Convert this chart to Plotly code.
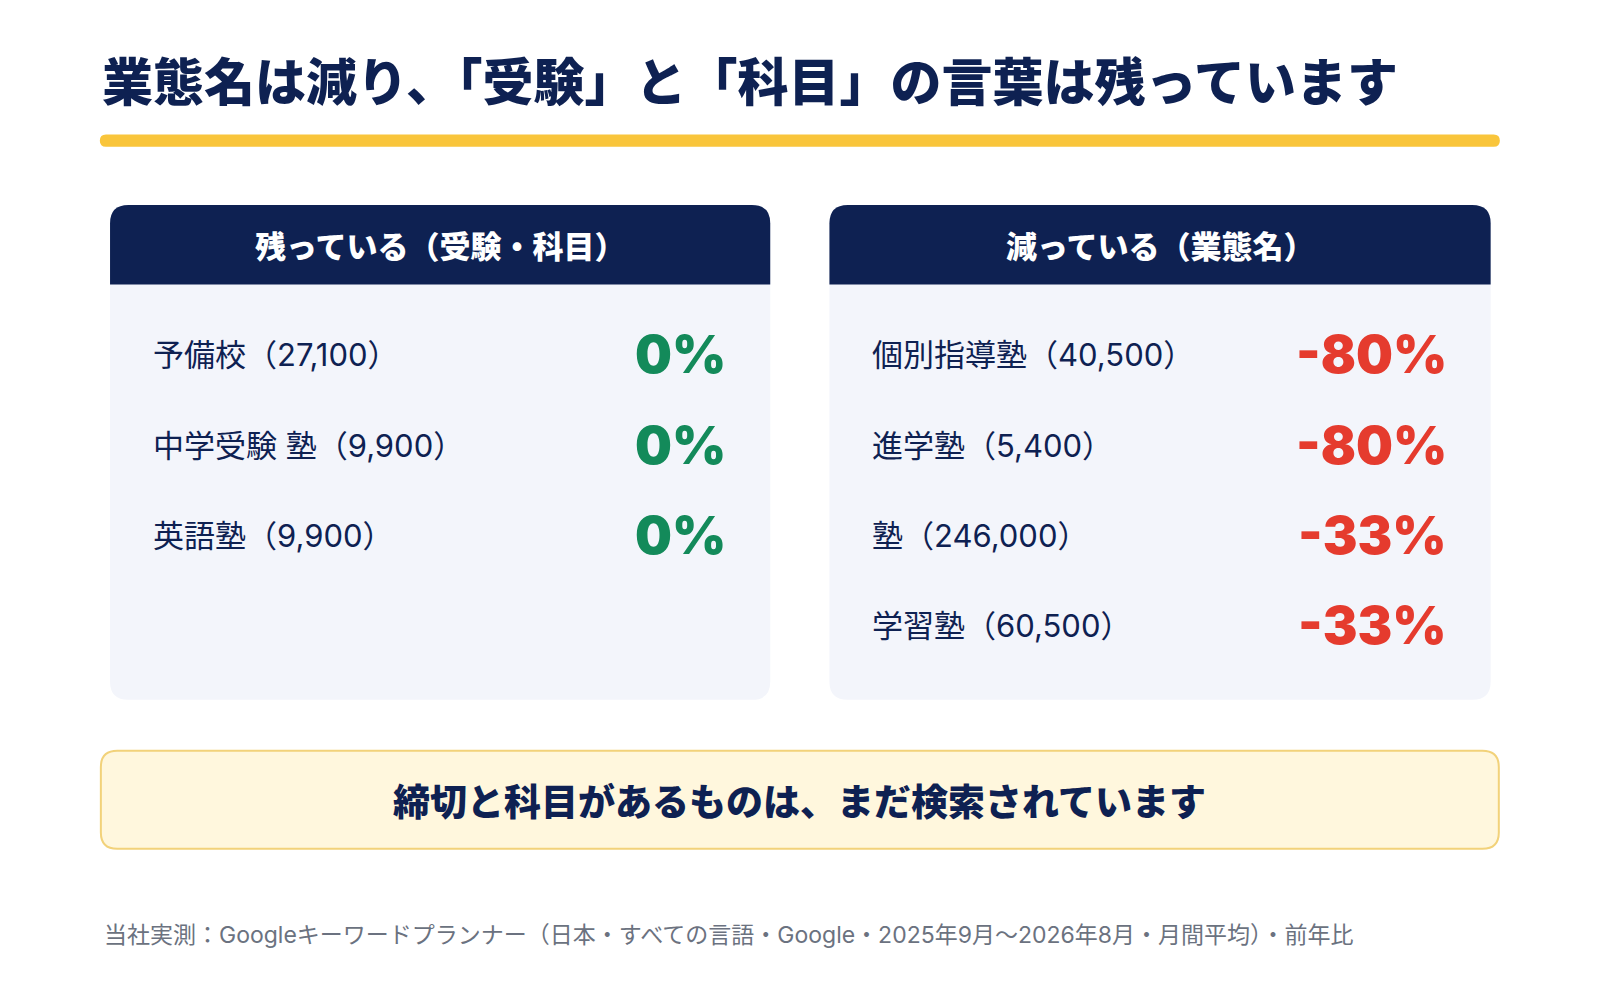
import plotly.graph_objects as go

title = "業態名は減り、「受験」と「科目」の言葉は残っています"
left_header = "残っている（受験・科目）"
right_header = "減っている（業態名）"
left_names = ["予備校", "中学受験 塾", "英語塾"]
left_volumes = ["27,100", "9,900", "9,900"]
left_changes = [0, 0, 0]
right_names = ["個別指導塾", "進学塾", "塾", "学習塾"]
right_volumes = ["40,500", "5,400", "246,000", "60,500"]
right_changes = [-80, -80, -33, -33]
summary = "締切と科目があるものは、まだ検索されています"
footer = "当社実測：Googleキーワードプランナー（日本・すべての言語・Google・2025年9月〜2026年8月・月間平均）・前年比"

NAVY = "#0E2152"
FONT = "Noto Sans CJK JP"
W, H = 1568, 980
OFF = 8

def rrect(x0, y0, x1, y1, r, top_only=False):
    if top_only:
        return (f"M{x0},{y1} L{x0},{y0+r} Q{x0},{y0} {x0+r},{y0} L{x1-r},{y0} "
                f"Q{x1},{y0} {x1},{y0+r} L{x1},{y1} Z")
    return (f"M{x0+r},{y0} L{x1-r},{y0} Q{x1},{y0} {x1},{y0+r} L{x1},{y1-r} "
            f"Q{x1},{y1} {x1-r},{y1} L{x0+r},{y1} Q{x0},{y1} {x0},{y1-r} "
            f"L{x0},{y0+r} Q{x0},{y0} {x0+r},{y0} Z")

shapes = []
ann = []
def text(x, y, s, size, color, bold=False, xanchor="left", family=FONT):
    ann.append(dict(x=x, y=y, xref="x", yref="y", text=s, showarrow=False,
                    xanchor=xanchor, yanchor="middle",
                    font=dict(family=family, size=size, color=color,
                              weight=900 if bold else "normal")))

text(98, 78, title, 51, NAVY, True)
shapes.append(dict(type="path", path=rrect(98, 132, 1470, 144, 6), fillcolor="#F9C53B", line_width=0))

panels = [(108, 755, left_header, left_names, left_volumes, left_changes, "#138A5A"),
          (813, 1461, right_header, right_names, right_volumes, right_changes, "#E53B2E")]
rows_y = [348, 437, 525, 613]
for x0, x1, hdr, names, vols, chg, col in panels:
    shapes.append(dict(type="path", path=rrect(x0, 201, x1, 686, 18), fillcolor="#F3F5FB", line_width=0, layer="below"))
    shapes.append(dict(type="path", path=rrect(x0, 201, x1, 279, 18, top_only=True), fillcolor=NAVY, line_width=0))
    text((x0 + x1) / 2, 240, hdr, 31, "white", True, "center")
    for i, (n, v, c) in enumerate(zip(names, vols, chg)):
        text(x0 + 40, rows_y[i], f"{n}（{v}）", 31, NAVY, False, "left", "Inter, " + FONT)
        text(x1 - 41, rows_y[i], f"{c}%", 52, col, True, "right", "Inter, " + FONT)

shapes.append(dict(type="path", path=rrect(99, 736, 1469, 832, 16), fillcolor="#FFF7DD",
                   line=dict(color="#F2D27A", width=2)))
text(784, 784, summary, 37, NAVY, True, "center")
text(100, 916, footer, 23, "#6B7280", False, "left", "Inter, " + FONT)

fig = go.Figure()
fig.update_layout(width=1600, height=1000, margin=dict(l=0, r=0, t=0, b=0),
                  paper_bgcolor="white", plot_bgcolor="white",
                  xaxis=dict(range=[OFF, W + OFF], visible=False, fixedrange=True),
                  yaxis=dict(range=[H + OFF, OFF], visible=False, fixedrange=True),
                  shapes=shapes, annotations=ann, showlegend=False)
fig.write_html("out.html")
